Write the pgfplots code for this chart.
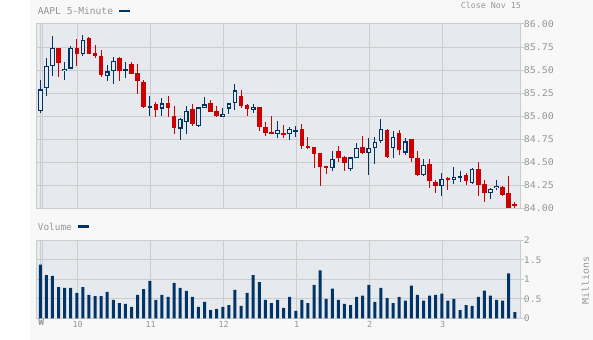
\documentclass[border=0pt]{standalone}
\usepackage{pgfplots}
\pgfplotsset{compat=1.18}
\usepackage{pgfplotstable}
\usepackage{fontspec}
\newfontfamily\mono{DejaVu Sans Mono}
\newfontfamily\monow[FakeStretch=1.08]{DejaVu Sans Mono}
\definecolor{pagebg}{RGB}{248,248,248}
\definecolor{plotbg}{RGB}{230,234,238}
\definecolor{gridc}{RGB}{204,204,204}
\definecolor{cblue}{RGB}{0,51,102}
\definecolor{cred}{RGB}{204,0,0}
\definecolor{txt}{RGB}{150,150,150}

% up (hollow blue) candles: index open high low close
\pgfplotstableread{
x O H L C
0 85.051 85.391 85.029 85.290
1 85.301 85.630 85.221 85.540
2 85.540 85.870 85.438 85.736
4 85.493 85.583 85.395 85.518
5 85.518 85.757 85.515 85.736
7 85.678 85.880 85.652 85.833
11 85.438 85.551 85.384 85.486
12 85.486 85.641 85.351 85.594
14 85.486 85.583 85.417 85.507
18 85.094 85.217 85.004 85.116
20 85.083 85.196 85.004 85.138
23 84.866 84.986 84.743 84.971
24 84.938 85.109 84.808 85.051
26 84.895 85.098 84.880 85.094
27 85.094 85.207 85.094 85.127
30 84.996 85.094 84.993 85.029
31 85.083 85.141 85.022 85.138
32 85.138 85.348 85.072 85.279
35 85.072 85.130 85.036 85.105
39 84.812 84.946 84.764 84.855
41 84.808 84.877 84.743 84.866
42 84.830 84.891 84.775 84.851
48 84.438 84.620 84.406 84.540
51 84.428 84.558 84.406 84.551
52 84.551 84.707 84.547 84.659
54 84.601 84.761 84.362 84.659
55 84.659 84.779 84.482 84.725
56 84.736 84.967 84.710 84.866
58 84.659 84.837 84.547 84.775
60 84.605 84.768 84.580 84.725
63 84.362 84.540 84.351 84.475
66 84.243 84.380 84.134 84.322
68 84.312 84.446 84.264 84.344
69 84.330 84.402 84.286 84.348
71 84.275 84.435 84.264 84.424
74 84.167 84.225 84.101 84.214
75 84.221 84.308 84.199 84.246
}\upt

% down (filled red) candles
\pgfplotstableread{
x O H L C
3 85.736 85.736 85.428 85.580
6 85.736 85.837 85.547 85.678
8 85.848 85.855 85.678 85.678
9 85.685 85.772 85.634 85.652
10 85.652 85.717 85.428 85.449
13 85.630 85.641 85.384 85.486
15 85.565 85.583 85.453 85.460
16 85.464 85.572 85.243 85.377
17 85.366 85.388 85.094 85.094
19 85.130 85.149 84.993 85.069
21 85.141 85.217 84.993 85.091
22 85.000 85.109 84.808 84.873
25 85.076 85.130 84.891 84.917
28 85.141 85.174 85.047 85.047
29 85.051 85.109 84.993 85.004
33 85.217 85.283 85.087 85.112
34 85.120 85.127 85.000 85.076
36 85.098 85.098 84.837 84.884
37 84.880 84.935 84.786 84.819
38 84.830 85.000 84.808 84.815
40 84.815 84.902 84.764 84.808
43 84.859 84.913 84.645 84.674
44 84.674 84.772 84.645 84.663
45 84.663 84.663 84.438 84.591
46 84.598 84.598 84.243 84.449
47 84.457 84.457 84.373 84.438
49 84.620 84.674 84.504 84.547
50 84.554 84.572 84.406 84.493
53 84.663 84.783 84.591 84.601
57 84.855 84.866 84.547 84.558
59 84.815 84.848 84.580 84.634
61 84.750 84.750 84.504 84.547
62 84.551 84.620 84.351 84.362
64 84.486 84.533 84.221 84.301
65 84.290 84.308 84.167 84.243
67 84.333 84.344 84.199 84.308
70 84.359 84.380 84.250 84.297
72 84.424 84.504 84.134 84.254
73 84.264 84.308 84.069 84.167
76 84.232 84.246 84.134 84.145
77 84.163 84.348 84.004 84.004
78 84.040 84.069 84.004 84.030
}\downt

% volume in millions
\pgfplotstableread{
x v
0 1.376
1 1.11
2 1.085
3 0.80
4 0.78
5 0.78
6 0.65
7 0.80
8 0.60
9 0.57
10 0.57
11 0.675
12 0.47
13 0.39
14 0.37
15 0.29
16 0.60
17 0.75
18 0.96
19 0.47
20 0.60
21 0.55
22 0.91
23 0.78
24 0.70
25 0.55
26 0.29
27 0.42
28 0.21
29 0.24
30 0.29
31 0.34
32 0.73
33 0.32
34 0.65
35 1.11
36 0.93
37 0.47
38 0.39
39 0.47
40 0.265
41 0.55
42 0.19
43 0.47
44 0.39
45 0.86
46 1.23
47 0.50
48 0.76
49 0.47
50 0.37
51 0.34
52 0.55
53 0.58
54 0.86
55 0.42
56 0.78
57 0.52
58 0.39
59 0.55
60 0.45
61 0.84
62 0.60
63 0.45
64 0.58
65 0.60
66 0.63
67 0.45
68 0.50
69 0.21
70 0.34
71 0.32
72 0.55
73 0.71
74 0.58
75 0.47
76 0.45
77 1.15
78 0.16
}\volt

\pgfplotsset{
  panel/.style={
    anchor=south west, scale only axis, width=484.7bp,
    xmin=-0.71, xmax=78.98,
    axis background/.style={fill=plotbg},
    axis line style={draw=gridc, line width=1bp},
    grid=major, grid style={draw=gridc, line width=1bp},
    xtick={-0.05,0.33,6.15,18.15,30.15,42.15,54.15,66.15},
    xtick style={draw=none},
    ytick pos=right, yticklabel pos=right,
    ytick style={draw=gridc, line width=1bp},
    tick align=outside, major tick length=3bp,
  },
  candle/.style={draw=none, mark=none, forget plot,
    error bars/y dir=both, error bars/y explicit, error bars/error mark=none},
}

\begin{document}
\begin{tikzpicture}
\useasboundingbox (0,0) rectangle (593bp,340bp);
\fill[pagebg] (0,0) rectangle (593bp,340bp);
\fill[white] (0,0) rectangle (30bp,340bp);

\begin{axis}[panel,
  at={(36bp,131.7bp)}, height=184.3bp,
  ymin=84, ymax=86,
  xticklabels={,,,,,,,},
  ytick={84,84.25,84.5,84.75,85,85.25,85.5,85.75,86},
  yticklabels={84.00,84.25,84.50,84.75,85.00,85.25,85.50,85.75,86.00},
  yticklabel style={font=\monow\fontsize{9.2bp}{10bp}\selectfont, text=txt, inner sep=0pt, anchor=west},
]
% wicks
\addplot[candle, error bars/error bar style={draw=cblue, line width=1bp}]
  table[x=x, y expr={(\thisrow{H}+\thisrow{L})/2}, y error expr={(\thisrow{H}-\thisrow{L})/2}] {\upt};
\addplot[candle, error bars/error bar style={draw=cred, line width=1bp}]
  table[x=x, y expr={(\thisrow{H}+\thisrow{L})/2}, y error expr={(\thisrow{H}-\thisrow{L})/2}] {\downt};
% bodies
\addplot[candle, error bars/error bar style={draw=cred, line width=4.6bp, line cap=butt}]
  table[x=x, y expr={(\thisrow{O}+\thisrow{C})/2}, y error expr={max(abs(\thisrow{O}-\thisrow{C})/2,0.007)}] {\downt};
\addplot[candle, error bars/error bar style={draw=cblue, line width=4.6bp, line cap=butt}]
  table[x=x, y expr={(\thisrow{O}+\thisrow{C})/2}, y error expr={max(abs(\thisrow{O}-\thisrow{C})/2,0.011)}] {\upt};
\addplot[candle, error bars/error bar style={draw=plotbg, line width=2.4bp, line cap=butt}]
  table[x=x, y expr={(\thisrow{O}+\thisrow{C})/2}, y error expr={max(abs(\thisrow{O}-\thisrow{C})/2-0.0115,0)}] {\upt};
\end{axis}

\begin{axis}[panel,
  at={(36bp,21.7bp)}, height=78bp,
  ymin=0, ymax=2,
  xticklabels={,,10,11,12,1,2,3},
  extra x ticks={0.14}, extra x tick labels={W},
  extra x tick style={grid=none, major tick length=0pt,
    xticklabel style={font=\mono\bfseries\fontsize{9.6bp}{10bp}\selectfont}},
  xticklabel style={font=\mono\fontsize{8.4bp}{10bp}\selectfont, text=txt, inner sep=0pt, anchor=north},
  ytick={0,0.5,1,1.5,2},
  yticklabels={0,0.5,1,1.5,2},
  yticklabel style={font=\monow\fontsize{9bp}{10bp}\selectfont, text=txt, inner sep=0pt, anchor=west},
]
\addplot[ybar, bar width=3bp, fill=cblue, draw=none] table[x=x, y=v] {\volt};
\end{axis}

\node[anchor=base west, inner sep=0pt, text=txt, font=\mono\fontsize{9.6bp}{11bp}\selectfont]
  at (37.7bp,325bp) {AAPL 5-Minute \textcolor{cblue}{\rule[2.5bp]{11bp}{2.6bp}}};
\node[anchor=base east, inner sep=0pt, text=txt, font=\mono\fontsize{8.3bp}{10bp}\selectfont]
  at (521bp,331bp) {Close Nov 15};
\node[anchor=base west, inner sep=0pt, text=txt, font=\mono\fontsize{9.4bp}{11bp}\selectfont]
  at (37.7bp,109.5bp) {Volume \textcolor{cblue}{\rule[2.5bp]{11bp}{2.6bp}}};
\node[rotate=90, inner sep=0pt, text=txt, font=\monow\fontsize{9.2bp}{11bp}\selectfont]
  at (585.5bp,59.3bp) {Millions};
\end{tikzpicture}
\end{document}
